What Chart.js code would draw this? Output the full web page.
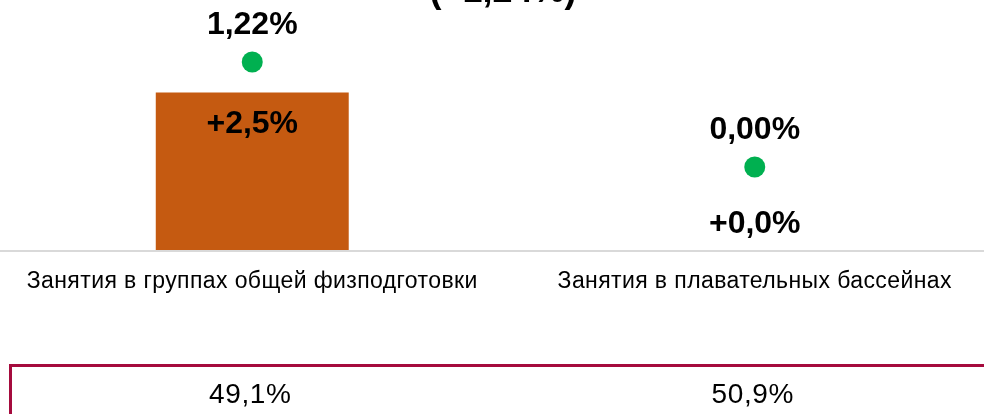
<!DOCTYPE html>
<html>
<head>
<meta charset="utf-8">
<script src="https://cdn.jsdelivr.net/npm/chart.js@4/dist/chart.umd.min.js"></script>
<style>
  html, body { margin: 0; padding: 0; background: #fff; overflow: hidden; }
  #wrap { position: relative; width: 1006px; height: 414px; }
</style>
</head>
<body>
<div id="wrap"><canvas id="chart" width="1006" height="414"></canvas></div>
<script>
const titleText = '(+1,24%)';
const categories = ['Занятия в группах общей физподготовки', 'Занятия в плавательных бассейнах'];
const barValues = [2.5, 0.0];
const barLabels = ['+2,5%', '+0,0%'];
const dotValues = [1.22, 0.00];
const dotLabels = ['1,22%', '0,00%'];
const shareLabels = ['49,1%', '50,9%'];

const FONT = "'Liberation Sans', Arial, sans-serif";

const labelsPlugin = {
  id: 'labels',
  afterDatasetsDraw(chart) {
    const ctx = chart.ctx;
    const area = chart.chartArea;
    const xScale = chart.scales.x;
    ctx.save();

    // baseline
    ctx.strokeStyle = '#d9d9d9';
    ctx.lineWidth = 2;
    ctx.beginPath();
    ctx.moveTo(0, area.bottom);
    ctx.lineTo(chart.width, area.bottom);
    ctx.stroke();

    ctx.fillStyle = '#000';
    ctx.textAlign = 'center';

    // title (top cut off)
    ctx.font = 'bold 36px ' + FONT;
    ctx.textBaseline = 'alphabetic';
    ctx.fillText(titleText, chart.width / 2, 2);

    // bar labels
    ctx.font = 'bold 32px ' + FONT;
    ctx.textBaseline = 'middle';
    chart.getDatasetMeta(0).data.forEach((bar, i) => {
      const h = bar.base - bar.y;
      const y = h > 60 ? bar.y + 32 : bar.y - 26.5;
      ctx.fillText(barLabels[i], bar.x, y);
    });

    // dot labels
    chart.getDatasetMeta(1).data.forEach((pt, i) => {
      ctx.fillText(dotLabels[i], pt.x, pt.y - 37);
    });

    // category labels
    ctx.font = '23px ' + FONT;
    ctx.letterSpacing = '0.4px';
    ctx.textBaseline = 'alphabetic';
    categories.forEach((c, i) => {
      ctx.fillText(c, xScale.getPixelForValue(i), 288);
    });

    // share box
    ctx.letterSpacing = '0px';
    ctx.strokeStyle = '#A50B3D';
    ctx.lineWidth = 3;
    ctx.strokeRect(10.5, 365.5, chart.width + 20, 100);
    ctx.font = '28px ' + FONT;
    ctx.letterSpacing = '0.6px';
    shareLabels.forEach((s, i) => {
      ctx.fillText(s, xScale.getPixelForValue(i) - 2, 403);
    });

    ctx.restore();
  }
};

new Chart(document.getElementById('chart'), {
  type: 'bar',
  data: {
    labels: categories,
    datasets: [
      {
        type: 'bar',
        data: barValues,
        backgroundColor: '#C55A11',
        borderWidth: 0,
        categoryPercentage: 1,
        barPercentage: 0.384,
        yAxisID: 'y',
        order: 2
      },
      {
        type: 'line',
        data: dotValues,
        showLine: false,
        pointRadius: 10.5,
        pointHoverRadius: 10.5,
        pointBackgroundColor: '#00B050',
        pointBorderWidth: 0,
        borderColor: '#00B050',
        yAxisID: 'y2',
        order: 1
      }
    ]
  },
  options: {
    responsive: false,
    devicePixelRatio: 1,
    animation: false,
    layout: { autoPadding: false, padding: { left: 1, right: 0, top: 0, bottom: 163 } },
    plugins: {
      legend: { display: false },
      title: { display: false },
      tooltip: { enabled: false }
    },
    scales: {
      x: { display: false, offset: true },
      y: { display: false, min: 0, max: 3.959 },
      y2: { display: false, min: -0.976, max: 1.940 }
    }
  },
  plugins: [labelsPlugin]
});
</script>
</body>
</html>
